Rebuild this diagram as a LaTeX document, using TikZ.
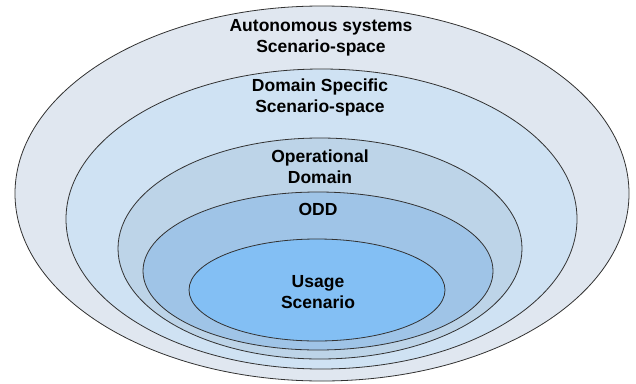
\documentclass[tikz,border=0pt]{standalone}
\usepackage{fontspec}
\setmainfont{Liberation Sans}
\usetikzlibrary{shapes.geometric}
\definecolor{ssline}{RGB}{50,50,50}
\definecolor{ssautonomous}{RGB}{224,231,240}
\definecolor{ssdomain}{RGB}{207,226,243}
\definecolor{ssoperational}{RGB}{189,212,232}
\definecolor{ssodd}{RGB}{159,196,231}
\definecolor{ssusage}{RGB}{131,191,244}
\tikzset{
  sslayer/.style={draw=ssline, ellipse, line width=.8pt, inner sep=0pt},
  sslabel/.style={font=\bfseries\fontsize{17.5}{21}\selectfont, align=center, inner sep=0pt}
}

\begin{document}
\begin{tikzpicture}[x=1pt, y=-1pt]
  \useasboundingbox (0,0) rectangle (636,383);
  % nested scenario spaces, outermost first
  \node[sslayer, fill=ssautonomous, minimum width=614pt, minimum height=375pt] (autonomous) at (322,193.5) {};
  \node[sslayer, fill=ssdomain, minimum width=511pt, minimum height=300pt] (domain) at (321.5,219) {};
  \node[sslayer, fill=ssoperational, minimum width=404pt, minimum height=221pt] (operational) at (320,248.5) {};
  \node[sslayer, fill=ssodd, minimum width=350pt, minimum height=158pt] (odd) at (318,271) {};
  \node[sslayer, fill=ssusage, minimum width=256pt, minimum height=102pt] (usage) at (317,290) {};
  % labels
  \node[sslabel] (autonomoustext) at (321,38) {Autonomous systems\\Scenario-space};
  \node[sslabel] (domaintext) at (320,97) {Domain Specific\\Scenario-space};
  \node[sslabel] (operationaltext) at (320,167) {Operational\\Domain};
  \node[sslabel] (oddtext) at (318,209) {ODD};
  \node[sslabel] (usagetext) at (318,292) {Usage\\Scenario};
\end{tikzpicture}
\end{document}
